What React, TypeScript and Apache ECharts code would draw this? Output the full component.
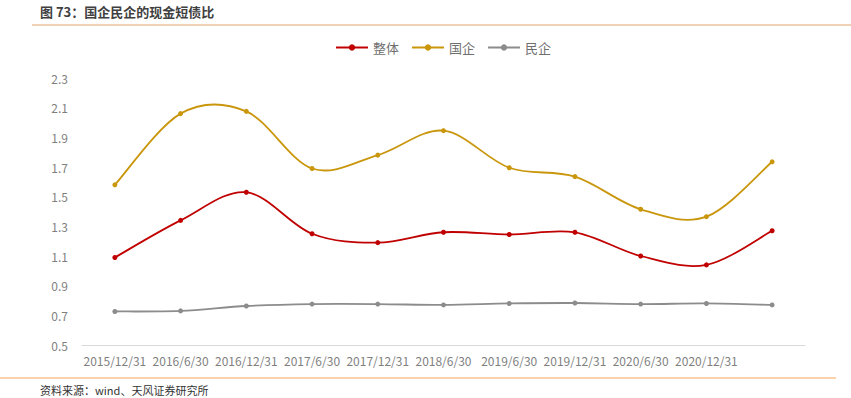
import React, { useEffect, useRef } from "react";
import * as echarts from "echarts";

const categories = [
  "2015/12/31", "2016/6/30", "2016/12/31", "2017/6/30", "2017/12/31",
  "2018/6/30", "2019/6/30", "2019/12/31", "2020/6/30", "2020/12/31", "",
];
const zhengti = [1.09, 1.34, 1.53, 1.25, 1.19, 1.26, 1.245, 1.26, 1.1, 1.04, 1.27];
const guoqi = [1.58, 2.06, 2.075, 1.69, 1.78, 1.945, 1.695, 1.635, 1.415, 1.365, 1.735];
const minqi = [0.726, 0.73, 0.763, 0.776, 0.776, 0.77, 0.78, 0.783, 0.776, 0.78, 0.77];

const titleText = "图 73：国企民企的现金短债比";
const sourceText = "资料来源：wind、天风证券研究所";

const FONT = "'Noto Sans CJK SC', 'Noto Sans', sans-serif";

const COLORS: Record<string, string> = { 整体: "#c00000", 国企: "#c9960c", 民企: "#8c8c8c" };

function smoothPath(pts: number[][]) {
  let d = `M${pts[0][0]},${pts[0][1]}`;
  for (let i = 0; i < pts.length - 1; i++) {
    const p0 = pts[i - 1] || pts[i];
    const p1 = pts[i];
    const p2 = pts[i + 1];
    const p3 = pts[i + 2] || pts[i + 1];
    const c1x = p1[0] + (p2[0] - p0[0]) / 6;
    const c1y = p1[1] + (p2[1] - p0[1]) / 6;
    const c2x = p2[0] - (p3[0] - p1[0]) / 6;
    const c2y = p2[1] - (p3[1] - p1[1]) / 6;
    d += ` C${c1x},${c1y} ${c2x},${c2y} ${p2[0]},${p2[1]}`;
  }
  return d;
}

export default function App() {
  const ref = useRef<HTMLDivElement>(null);
  useEffect(() => {
    if (!ref.current) return;
    const chart = echarts.init(ref.current, undefined, { renderer: "svg" });
    const curve = (name: string, data: number[]) => ({
      name: name + "_curve",
      type: "custom",
      silent: true,
      z: 1,
      data: [0],
      renderItem: (params: any, api: any) => {
        const pts = data.map((v, i) => api.coord([i, v]));
        return {
          type: "path",
          shape: { pathData: smoothPath(pts) },
          style: { stroke: COLORS[name], fill: "none", lineWidth: 1.8 },
        };
      },
    });
    const dots = (name: string, data: number[]) => ({
      name,
      type: "line",
      data,
      z: 3,
      symbol: "circle",
      symbolSize: 5,
      itemStyle: { color: COLORS[name] },
      lineStyle: { color: COLORS[name], width: 1.8, opacity: 0 },
    });
    const legendItem = (name: string) => ({
      name,
      lineStyle: { color: COLORS[name], width: 2, opacity: 1 },
      itemStyle: { color: COLORS[name] },
    });
    chart.setOption({
      animation: false,
      textStyle: { fontFamily: FONT },
      legend: {
        top: 36,
        left: 330,
        itemWidth: 32,
        itemHeight: 8,
        itemGap: 12,
        textStyle: { color: "#6f6f6f", fontSize: 13, fontFamily: FONT },
        data: [legendItem("整体"), legendItem("国企"), legendItem("民企")],
      },
      grid: { left: 82, right: 46, top: 78, bottom: 53, containLabel: false },
      xAxis: {
        type: "category",
        data: categories,
        boundaryGap: true,
        axisLine: { lineStyle: { color: "#d9d9d9", width: 1 } },
        axisTick: { show: false },
        axisLabel: { color: "#7f7f7f", fontSize: 12, interval: 0, margin: 9, fontFamily: FONT },
      },
      yAxis: {
        type: "value",
        min: 0.5,
        max: 2.3,
        interval: 0.2,
        axisLine: { show: false },
        axisTick: { show: false },
        splitLine: { show: false },
        axisLabel: {
          color: "#7f7f7f",
          fontSize: 12,
          margin: 14,
          fontFamily: FONT,
          formatter: (v: number) => v.toFixed(1),
        },
      },
      series: [
        curve("整体", zhengti),
        curve("国企", guoqi),
        curve("民企", minqi),
        dots("整体", zhengti),
        dots("国企", guoqi),
        dots("民企", minqi),
      ],
      graphic: [
        {
          type: "text",
          left: 40,
          top: 5,
          style: { text: titleText, fontSize: 13, fontWeight: "bold", fill: "#404040", fontFamily: FONT },
        },
        {
          type: "line",
          shape: { x1: 32, y1: 25, x2: 851, y2: 25 },
          style: { stroke: "#e3a46c", lineWidth: 1 },
        },
        {
          type: "line",
          shape: { x1: 0, y1: 378, x2: 836, y2: 378 },
          style: { stroke: "#f5a55a", lineWidth: 1 },
        },
        {
          type: "text",
          left: 40,
          top: 384,
          style: { text: sourceText, fontSize: 11, fill: "#333333", fontFamily: FONT },
        },
      ],
    });
    return () => chart.dispose();
  }, []);
  return <div ref={ref} style={{ width: 851, height: 398, position: "absolute", left: 0, top: 0 }} />;
}
